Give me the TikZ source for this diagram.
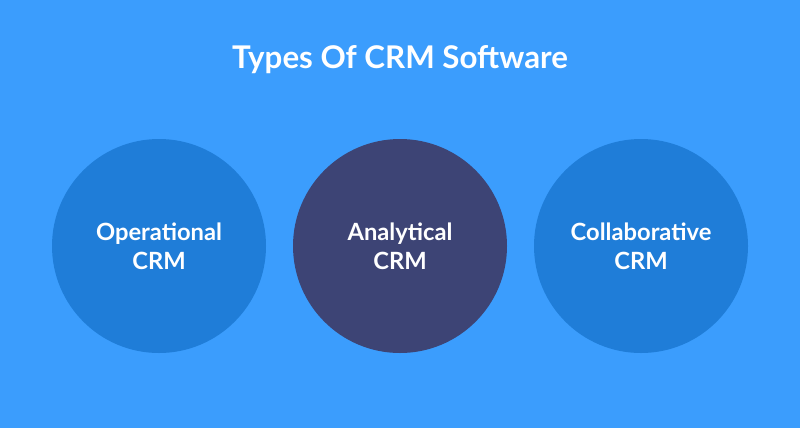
\documentclass[tikz,border=0pt]{standalone}
\usepackage{fontspec}
\setmainfont{Lato}
\definecolor{bgblue}{HTML}{3B9DFD}
\definecolor{midblue}{HTML}{1F7DD8}
\definecolor{darknavy}{HTML}{3D4475}
\begin{document}
\begin{tikzpicture}[line join=round, line cap=round,
	kind/.style={circle, minimum size=4.28cm, inner sep=0pt, text=white, align=center, font=\fontsize{13.5}{16.6}\selectfont\bfseries}]
				\fill[bgblue] (0,0) rectangle (16,8.56);
				\useasboundingbox (0,0) rectangle (16,8.56);
				\path 
				(3.18,3.64) coordinate (L)
				(8,3.64) coordinate (M)
				(12.82,3.64) coordinate (R)
				;
				\node[kind, fill=midblue] (oper) at (L) {Operational\\CRM};
				\node[kind, fill=darknavy] (anal) at (M) {Analytical\\CRM};
				\node[kind, fill=midblue] (coll) at (R) {Collaborative\\CRM};
				\node[text=white, font=\fontsize{17.8}{20}\selectfont\bfseries] (title) at (8,7.36) {Types Of CRM Software};
			\end{tikzpicture}
\end{document}
